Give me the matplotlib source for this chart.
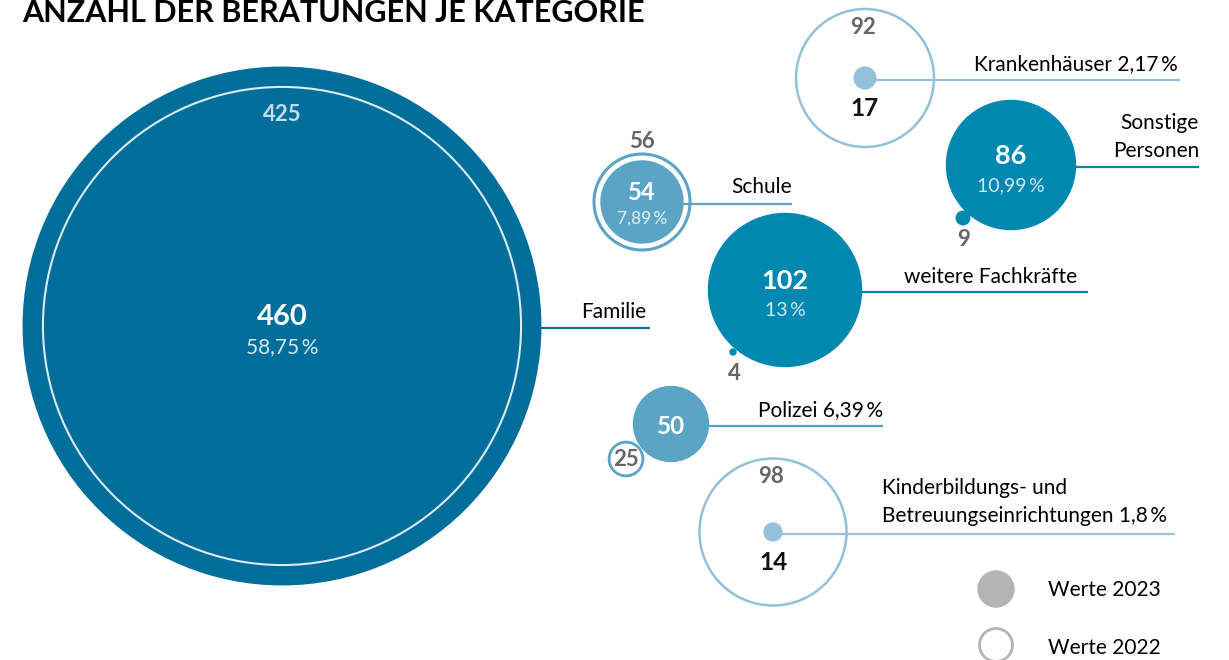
import matplotlib.pyplot as plt
from matplotlib.patches import Circle

plt.rcParams['font.family'] = ['Lato', 'DejaVu Sans']

# data
categories = ['Familie', 'Schule', 'weitere Fachkräfte', 'Sonstige\nPersonen',
              'Krankenhäuser', 'Polizei', 'Kinderbildungs- und\nBetreuungseinrichtungen']
values_2023 = [460, 54, 102, 86, 17, 50, 14]
values_2022 = [425, 56, 4, 9, 92, 25, 98]
shares_2023 = ['58,75\u2009%', '7,89\u2009%', '13\u2009%', '10,99\u2009%', '2,17\u2009%', '6,39\u2009%', '1,8\u2009%']

# layout in pixels: centre 2023, centre 2022, leader end x, colour, style
layout = [
    dict(c23=(282, 326), c22=(282, 326), end=650, col='#006e9b', kind='big'),
    dict(c23=(642, 202), c22=(642, 202), end=792, col='#5ba4c6', kind='ring'),
    dict(c23=(785, 290), c22=(733, 352), end=1088, col='#0088b1', kind='dot'),
    dict(c23=(1011, 165), c22=(963, 218), end=1199, col='#0088b1', kind='dot'),
    dict(c23=(865, 78), c22=(865, 78), end=1180, col='#95c0d9', kind='small'),
    dict(c23=(671, 424), c22=(626, 459), end=883, col='#5ba4c6', kind='side'),
    dict(c23=(773, 532), c22=(773, 532), end=1175, col='#95c0d9', kind='small'),
]

px_per_unit = 0.75       # radius scale for the smaller bubbles
big_px_per_unit = 0.5625  # the dominant category is drawn compressed
grey = '#666666'
lab_fs = 15

fig = plt.figure(figsize=(12.29, 6.6), dpi=100)
ax = fig.add_axes([0, 0, 1, 1])
ax.set_xlim(0, 1229)
ax.set_ylim(660, 0)
ax.axis('off')

for cat, v23, v22, share, lay in zip(categories, values_2023, values_2022, shares_2023, layout):
    k = big_px_per_unit if lay['kind'] == 'big' else px_per_unit
    r23, r22 = v23 * k, v22 * k
    col = lay['col']
    x, y = lay['c23']
    x2, y2 = lay['c22']
    # leader line
    ax.plot([x, lay['end']], [y + 2, y + 2], color=col, lw=1.6, zorder=1, solid_capstyle='butt')
    if lay['kind'] == 'big':
        ax.add_patch(Circle((x, y), r23, color=col, zorder=2))
        ax.add_patch(Circle((x2, y2), r22, fill=False, ec='#dcebf3', lw=1.5, zorder=3))
        ax.text(x, y2 - r22 + 28, str(v22), ha='center', va='center', fontsize=16,
                fontweight='bold', color='#c4dcea', zorder=4)
        ax.text(x, y - 9, str(v23), ha='center', va='center', fontsize=21,
                fontweight='bold', color='white', zorder=4)
        ax.text(x, y + 21, share, ha='center', va='center', fontsize=15,
                color='#d5e8f2', zorder=4)
        ax.text(lay['end'] - 4, y - 14, cat, ha='right', va='center', fontsize=lab_fs, color='black')
    elif lay['kind'] == 'ring':
        ax.add_patch(Circle((x2, y2), r22 + 6, fill=False, ec=col, lw=2.2, zorder=0))
        ax.add_patch(Circle((x, y), r23 + 0.5, color=col, zorder=2))
        ax.text(x2, y2 - r22 - 18, str(v22), ha='center', va='center', fontsize=16,
                fontweight='bold', color=grey)
        ax.text(x, y - 9, str(v23), ha='center', va='center', fontsize=17,
                fontweight='bold', color='white', zorder=4)
        ax.text(x, y + 17, share, ha='center', va='center', fontsize=12.5,
                color='#e3f0f7', zorder=4)
        ax.text(lay['end'], y - 15, cat, ha='right', va='center', fontsize=lab_fs, color='black')
    elif lay['kind'] == 'dot':
        ax.add_patch(Circle((x, y), r23, color=col, zorder=2))
        ax.add_patch(Circle((x2, y2), r22, color=col, zorder=2))
        ax.text(x2 + 1, y2 + 22, str(v22), ha='center', va='center', fontsize=16,
                fontweight='bold', color=grey)
        ax.text(x, y - 9, str(v23), ha='center', va='center', fontsize=19.5,
                fontweight='bold', color='white', zorder=4)
        ax.text(x, y + 21, share, ha='center', va='center', fontsize=14,
                color='#d5e8f2', zorder=4)
        if '\n' in cat:
            ax.text(lay['end'], y - 28, cat, ha='right', va='center', fontsize=lab_fs,
                    color='black', linespacing=1.5)
        else:
            ax.text(lay['end'] - 11, y - 13, cat, ha='right', va='center', fontsize=lab_fs, color='black')
    elif lay['kind'] == 'small':
        ax.add_patch(Circle((x2, y2), r22, fill=False, ec=col, lw=1.8, zorder=2))
        ax.add_patch(Circle((x, y), r23 * 0.85, color=col, zorder=3))
        ax.text(x2 - 2, y2 - r22 + 18, str(v22), ha='center', va='center', fontsize=16,
                fontweight='bold', color=grey)
        ax.text(x, y + 30, str(v23), ha='center', va='center', fontsize=17.5,
                fontweight='bold', color='#111111')
        if '\n' in cat:
            ax.text(882, y - 30, cat + ' ' + share, ha='left', va='center', fontsize=lab_fs,
                    color='black', linespacing=1.55)
        else:
            ax.text(lay['end'] - 2, y - 14, cat + ' ' + share, ha='right', va='center',
                    fontsize=lab_fs, color='black')
    elif lay['kind'] == 'side':
        ax.add_patch(Circle((x, y), r23, color=col, zorder=2))
        ax.add_patch(Circle((x2, y2), r22 * 0.9, fc='white', ec=col, lw=2, zorder=3))
        ax.text(x2, y2 + 1, str(v22), ha='center', va='center', fontsize=16,
                fontweight='bold', color=grey, zorder=4)
        ax.text(x, y + 2, str(v23), ha='center', va='center', fontsize=17.5,
                fontweight='bold', color='white', zorder=4)
        ax.text(lay['end'], y - 14, cat + ' ' + share, ha='right', va='center',
                fontsize=lab_fs, color='black')

# legend
ax.add_patch(Circle((996, 589), 18, color='#b4b4b4'))
ax.add_patch(Circle((996, 645), 16.5, fill=False, ec='#b4b4b4', lw=2))
ax.text(1048, 590, 'Werte 2023', ha='left', va='center', fontsize=lab_fs, color='black')
ax.text(1048, 648, 'Werte 2022', ha='left', va='center', fontsize=lab_fs, color='black')

ax.text(22, 13, 'ANZAHL DER BERATUNGEN JE KATEGORIE', ha='left', va='center',
        fontsize=22, fontweight='bold', color='black')

fig.savefig('out.png', dpi=100)
